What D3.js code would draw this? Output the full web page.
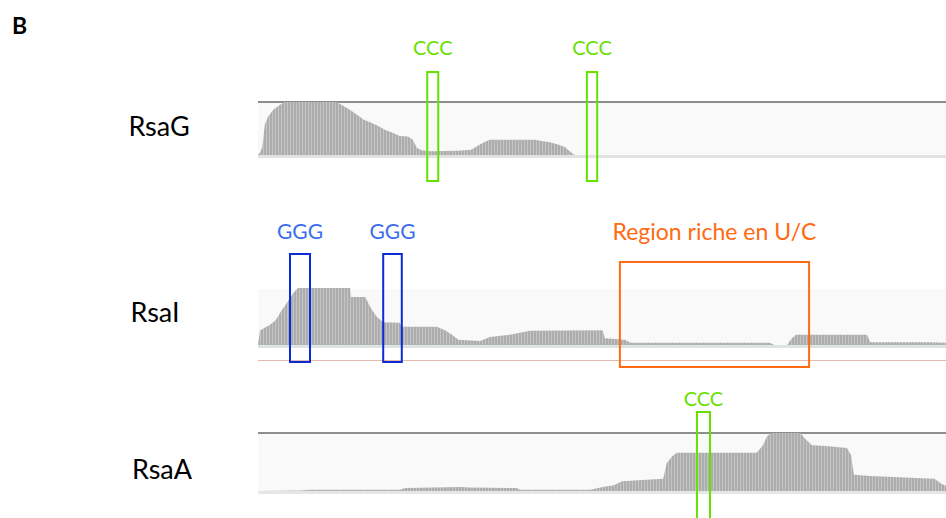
<!DOCTYPE html>
<html>
<head>
<meta charset="utf-8">
<script src="https://cdn.jsdelivr.net/npm/d3@7"></script>
<style>
body{margin:0;background:#fff;}
text{font-family:Lato,"Open Sans",sans-serif;}
</style>
</head>
<body>
<svg id="svg" width="946" height="518"></svg>
<script>
// positions are % of each RNA length, coverage relative to the track max
var rsaGPos=[0,0.3,0.6,1.0,1.5,2.2,3.2,3.9,11.5,11.9,12.6,13.4,14.4,15.3,16.3,17.4,18.5,19.6,20.6,21.8,22.5,23.1,23.8,25.0,29.0,31.0,32.0,33.0,33.7,40.3,41.0,42.4,43.6,44.6,45.3,46.0,100]
var rsaGCov=[0,0.05,0.13,0.58,0.73,0.85,0.95,1,1,0.96,0.91,0.85,0.76,0.67,0.62,0.55,0.47,0.42,0.36,0.35,0.29,0.13,0.09,0.07,0.08,0.1,0.18,0.25,0.29,0.29,0.27,0.24,0.2,0.15,0.07,0,0]

var rsaIPos=[0,0.3,1.7,2.6,3.2,4.2,5.1,5.8,13.4,13.5,15.6,16.0,16.6,17.3,18.2,20.6,20.9,26.0,27.2,28.2,29.1,32.3,33.7,36.6,39.5,50.1,50.4,53.3,54.2,74.4,75.1,76.9,77.6,78.2,88.5,89.0,97.7,100]
var rsaICov=[0,0.26,0.35,0.44,0.56,0.74,0.91,1,1,0.84,0.84,0.74,0.61,0.49,0.4,0.39,0.32,0.32,0.26,0.18,0.09,0.07,0.14,0.18,0.25,0.26,0.12,0.09,0.04,0.04,0,0,0.12,0.18,0.18,0.05,0.05,0.04]

var rsaAPos=[0,6.1,7.6,20.6,21.4,29.4,30.8,37.6,38.1,48.3,50.1,51.7,52.9,58.9,59.4,60.2,60.9,72.5,73.4,74.0,74.7,78.8,79.7,80.5,82.1,85.6,86.2,86.6,89.0,98.3,99.4,100]
var rsaACov=[0,0.01,0.02,0.02,0.05,0.07,0.06,0.05,0.02,0.02,0.07,0.1,0.17,0.21,0.48,0.6,0.66,0.66,0.79,0.95,1,1,0.88,0.79,0.78,0.74,0.62,0.28,0.26,0.21,0.12,0.09]

// annotated motifs [start%, end%, label]
var rsaGMotifs=[[24.6,26.2,"CCC"],[47.8,49.3,"CCC"]]
var rsaIMotifs=[[4.65,7.56,"GGG"],[18.2,20.9,"GGG"]]
var rsaIRegion=[[52.6,80.1,"Region riche en U/C"]]
var rsaAMotifs=[[63.8,65.7,"CCC"]]

var svg=d3.select("#svg")
var x=d3.scaleLinear().domain([0,100]).range([258,946])

var defs=svg.append("defs")
var pat=defs.append("pattern")
        .attr("id","stripes")
        .attr("patternUnits","userSpaceOnUse")
        .attr("width",3).attr("height",10)
pat.append("rect").attr("width",3).attr("height",10).attr("fill","#c4c4c4")
pat.append("rect").attr("width",2).attr("height",10).attr("fill","#adadad")

svg.append("text")
        .attr("x",12).attr("y",34)
        .style("font-size","23px").style("font-weight","bold")
        .text("B")

function track(name,pos,cov,top,bottom,opt) {
    var y=d3.scaleLinear().domain([0,1]).range([bottom,top])
    var g=svg.append("g")
    // track background
    g.append("rect")
            .attr("x",x(0)).attr("y",top+1)
            .attr("width",x(100)-x(0)).attr("height",bottom-top+1)
            .attr("fill","#f9f9f9")
    if (opt.topLine)
        g.append("rect")
                .attr("x",x(0)).attr("y",top-1)
                .attr("width",x(100)-x(0)).attr("height",2)
                .attr("fill","#8e8e8e")
    var area=d3.area()
            .x(d=>x(d[0]))
            .y0(bottom)
            .y1(d=>y(d[1]))
    g.append("path")
            .datum(pos.map((p,i)=>[p,cov[i]]))
            .attr("d",area)
            .attr("fill","url(#stripes)")
    // baseline band under the coverage
    g.append("rect")
            .attr("x",x(0)).attr("y",bottom)
            .attr("width",x(100)-x(0)).attr("height",3)
            .attr("fill",opt.band)
    g.append("text")
            .attr("x",opt.labelX).attr("y",opt.labelY)
            .attr("text-anchor","middle")
            .style("font-size","27px")
            .text(name)
}

function boxes(list,color,textColor,y1,y2,labelY,fontSize) {
    list.forEach(m=>{
        svg.append("rect")
                .attr("x",x(m[0])).attr("y",y1)
                .attr("width",x(m[1])-x(m[0])).attr("height",y2-y1)
                .attr("fill","none")
                .attr("stroke",color)
                .attr("stroke-width",2)
        svg.append("text")
                .attr("x",(x(m[0])+x(m[1]))/2).attr("y",labelY)
                .attr("text-anchor","middle")
                .style("font-size",fontSize+"px")
                .attr("fill",textColor)
                .text(m[2])
    })
}

track("RsaG",rsaGPos,rsaGCov,102,155,{topLine:true,band:"#e2e2e2",labelX:159,labelY:136})
track("RsaI",rsaIPos,rsaICov,288,345,{topLine:false,band:"#dde4e4",labelX:155,labelY:322})
svg.append("rect")
        .attr("x",x(0)).attr("y",360)
        .attr("width",x(100)-x(0)).attr("height",1)
        .attr("fill","#e6b9ad")
track("RsaA",rsaAPos,rsaACov,433,491,{topLine:true,band:"#e6e6e6",labelX:162,labelY:479})

boxes(rsaGMotifs,"#66e000","#66e000",72,181,55,20)
boxes(rsaIMotifs,"#0a2bd6","#3a6cf0",254,362,239,21)
boxes(rsaIRegion,"#ff6a13","#ff6a13",262,367,240,23)
boxes(rsaAMotifs,"#66e000","#66e000",412,530,406,20)
</script>
</body>
</html>
